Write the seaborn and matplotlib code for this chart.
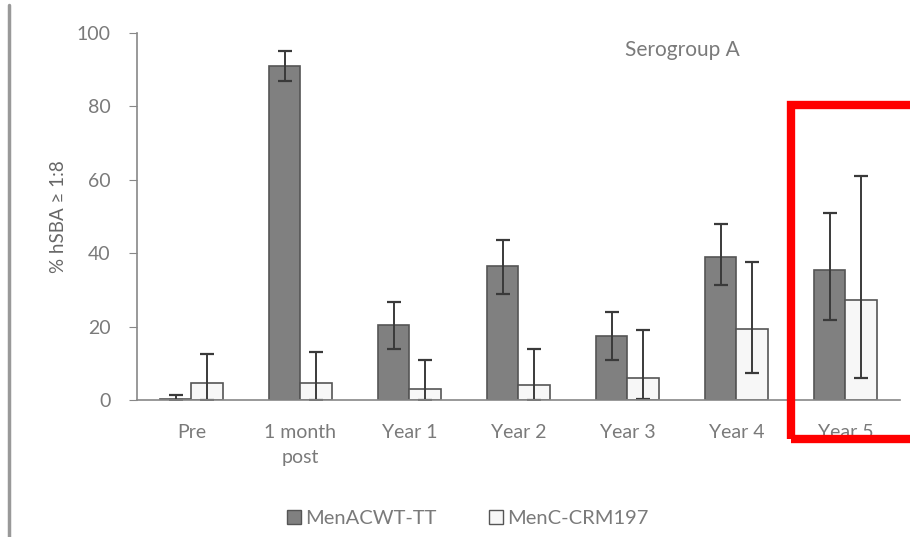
import numpy as np
import pandas as pd
import matplotlib.pyplot as plt
import seaborn as sns
from matplotlib.patches import Rectangle
from matplotlib.lines import Line2D

# data
categories = ['Pre', '1 month\npost', 'Year 1', 'Year 2', 'Year 3', 'Year 4', 'Year 5']
groups = ['MenACWT-TT', 'MenC-CRM197']
acwt = [0.4, 91.0, 20.5, 36.5, 17.5, 39.0, 35.5]
acwt_lo = [0.0, 87.0, 13.8, 29.0, 11.0, 31.3, 21.8]
acwt_hi = [1.5, 95.2, 26.8, 43.6, 24.0, 48.0, 51.0]
crm = [4.6, 4.6, 3.0, 4.0, 6.0, 19.4, 27.2]
crm_lo = [0.0, 0.0, 0.0, 0.0, 0.4, 7.4, 6.0]
crm_hi = [12.5, 13.0, 11.0, 13.9, 19.0, 37.6, 61.0]

df = pd.DataFrame({
    'time': categories * 2,
    'group': [groups[0]] * 7 + [groups[1]] * 7,
    'value': acwt + crm,
})

sns.set_style('white')
plt.rcParams['font.family'] = ['Lato', 'DejaVu Sans']
txt = '#7a7a7a'

fig = plt.figure(figsize=(9.1, 5.37), dpi=100)
ax = fig.add_axes([0.1505, 0.255, 0.8385, 0.6835])

sns.barplot(data=df, x='time', y='value', hue='group', order=categories,
            hue_order=groups, palette=['#808080', '#f7f7f7'], width=0.58,
            errorbar=None, edgecolor='#555555', linewidth=1.2, ax=ax, legend=False)

lows = [acwt_lo, crm_lo]
highs = [acwt_hi, crm_hi]
vals = [acwt, crm]
bar_conts = list(ax.containers)[:2]
for k, cont in enumerate(bar_conts):
    xs = [p.get_x() + p.get_width() / 2 for p in cont.patches]
    v = np.array(vals[k])
    yerr = [v - np.array(lows[k]), np.array(highs[k]) - v]
    ax.errorbar(xs, v, yerr=yerr, fmt='none', ecolor='#3a3a3a',
                elinewidth=1.4, capsize=5, capthick=1.6)

ax.set_ylim(0, 100)
ax.set_xlim(-0.5, 6.5)
ax.set_yticks([0, 20, 40, 60, 80, 100])
ax.set_xticks(range(7))
ax.set_xticklabels(categories, linespacing=1.6)
ax.set_xticks(np.arange(-0.5, 7, 1), minor=True)
ax.tick_params(axis='x', which='major', length=0, pad=17, labelsize=14, labelcolor=txt)
ax.tick_params(axis='x', which='minor', length=5, color='#888888', direction='out')
ax.tick_params(axis='y', length=6, color='#888888', direction='out', pad=13,
               labelsize=14, labelcolor=txt, left=True)
ax.set_xlabel('')
ax.set_ylabel('% hSBA ≥ 1:8', fontsize=13.5, color='#666666', labelpad=7)
sns.despine(ax=ax)
for s in ['left', 'bottom']:
    ax.spines[s].set_color('#888888')
    ax.spines[s].set_linewidth(1.2)

ax.text(0.64, 0.955, 'Serogroup A', transform=ax.transAxes, fontsize=15, color=txt,
        ha='left', va='center')

handles = [Rectangle((0, 0), 1, 1, facecolor='#808080', edgecolor='#555555'),
           Rectangle((0, 0), 1, 1, facecolor='#f7f7f7', edgecolor='#555555')]
fig.legend(handles, groups, loc='center', bbox_to_anchor=(0.514, 0.035), ncol=2,
           frameon=False, fontsize=14.5, labelcolor=txt, handlelength=0.7,
           handleheight=0.7, handletextpad=0.2, columnspacing=2.6)

# left border line of the source image
fig.add_artist(Line2D([0.0099, 0.0099], [0.0, 0.99], color='#999999', lw=2.5))
# red highlight box around Year 5
fig.add_artist(Rectangle((791 / 910, 1 - 439 / 537), 0.3, (439 - 105) / 537,
                         fill=False, edgecolor='#ff0000', lw=6, clip_on=False))

fig.savefig('out.png', dpi=100)
